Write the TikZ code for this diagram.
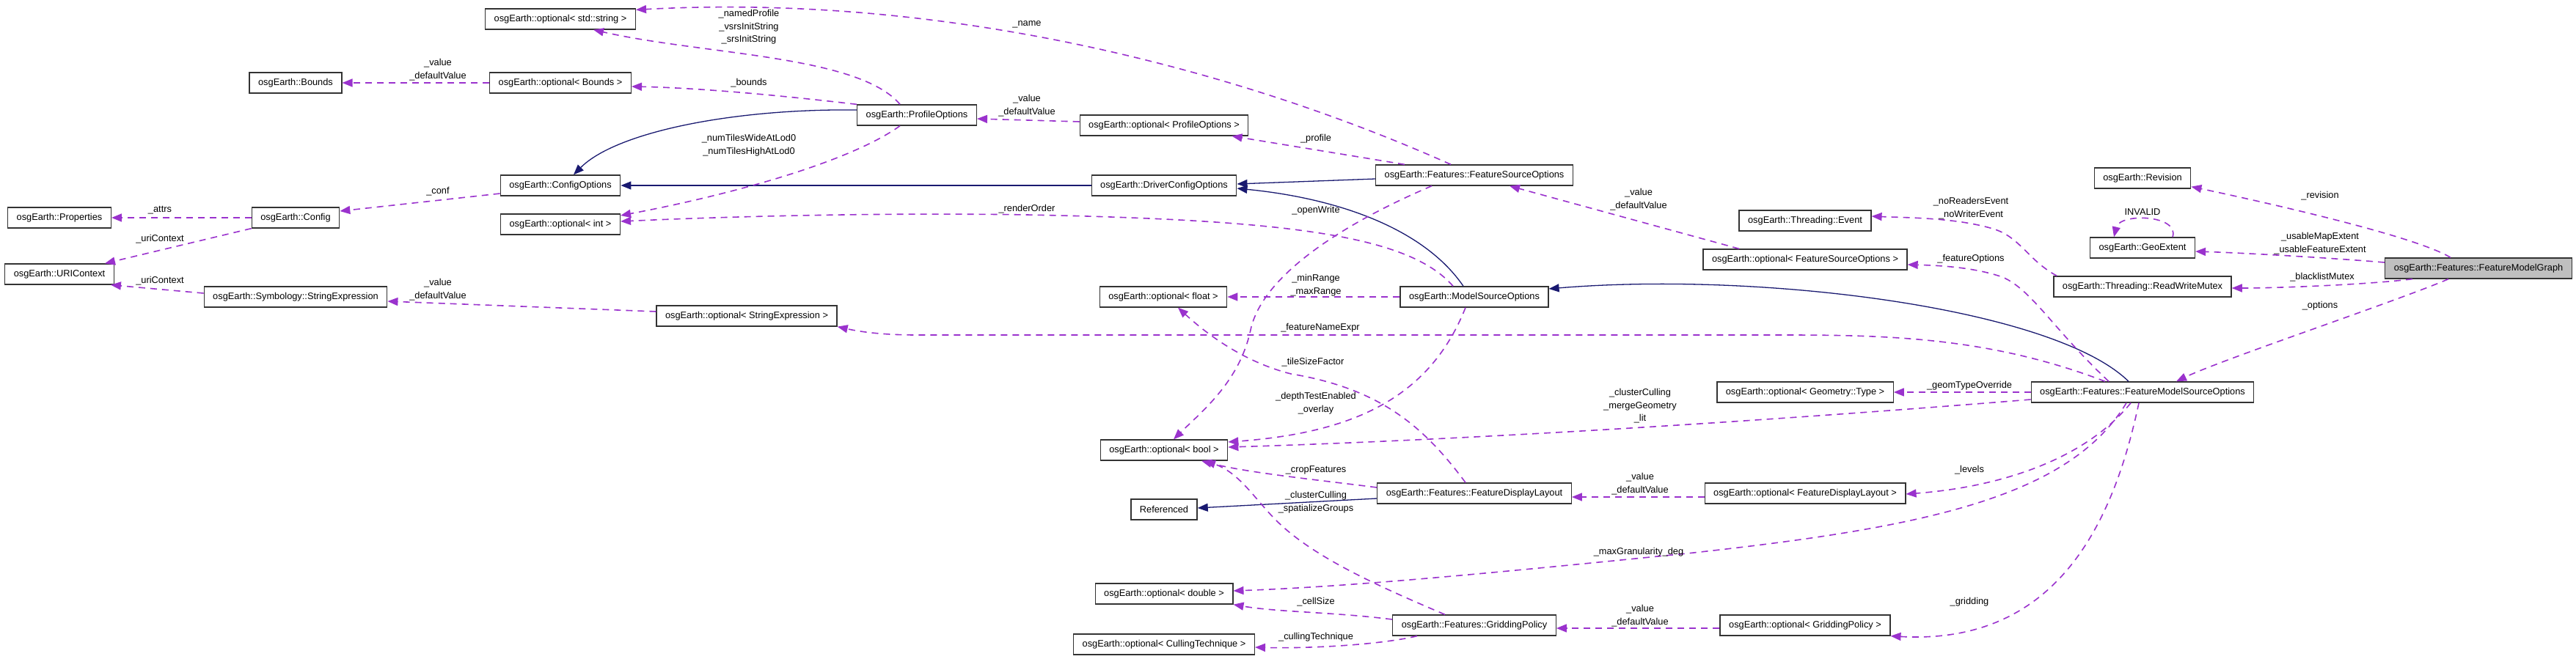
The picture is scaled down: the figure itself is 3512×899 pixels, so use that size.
\documentclass[tikz,border=0pt]{standalone}
\usepackage{fontspec}
\setmainfont{Liberation Sans}
\usetikzlibrary{arrows.meta}
\definecolor{member}{HTML}{9A32CD}
\definecolor{inherit}{HTML}{191970}
\definecolor{boxline}{HTML}{333333}
\definecolor{current}{HTML}{BFBFBF}

\tikzset{
  cls/.style={draw=boxline, line width=1.3pt, fill=white, minimum height=28pt,
    inner xsep=12pt, inner ysep=0pt, font=\fontsize{12.8}{15}\selectfont},
  cur/.style={cls, fill=current},
  dep/.style={draw=member, line width=1.6pt, dash pattern=on 9pt off 7pt,
    -{Triangle[length=14pt,width=11pt]}},
  inh/.style={draw=inherit, line width=1.3pt, -{Triangle[length=14pt,width=11pt]}},
  lbl/.style={font=\fontsize{12.8}{17.5}\selectfont, align=center, inner sep=0pt}
}

\begin{document}
\begin{tikzpicture}[x=1pt, y=-1pt]
  \useasboundingbox (0,0) rectangle (3512,899);

  % Classes
  \node[cls] (optstr) at (764,26) {osgEarth::optional< std::string >};
  \node[cls] (bounds) at (403,113) {osgEarth::Bounds};
  \node[cls] (optbounds) at (764,113) {osgEarth::optional< Bounds >};
  \node[cls] (cfgopt) at (764,253) {osgEarth::ConfigOptions};
  \node[cls] (optint) at (764,306) {osgEarth::optional< int >};
  \node[cls] (props) at (81,297) {osgEarth::Properties};
  \node[cls] (config) at (403,297) {osgEarth::Config};
  \node[cls] (uri) at (81,374) {osgEarth::URIContext};
  \node[cls] (strexpr) at (403,405) {osgEarth::Symbology::StringExpression};
  \node[cls] (profopt) at (1250,157) {osgEarth::ProfileOptions};
  \node[cls] (optprof) at (1587,171) {osgEarth::optional< ProfileOptions >};
  \node[cls] (drvopt) at (1587,253) {osgEarth::DriverConfigOptions};
  \node[cls] (optfloat) at (1586,405) {osgEarth::optional< float >};
  \node[cls] (optstrexpr) at (1018,431) {osgEarth::optional< StringExpression >};
  \node[cls] (optbool) at (1587,614) {osgEarth::optional< bool >};
  \node[cls] (refd) at (1587,695) {Referenced};
  \node[cls] (optdouble) at (1587,810) {osgEarth::optional< double >};
  \node[cls] (optcull) at (1587,879) {osgEarth::optional< CullingTechnique >};
  \node[cls] (fsopt) at (2010,239) {osgEarth::Features::FeatureSourceOptions};
  \node[cls] (msopt) at (2010,405) {osgEarth::ModelSourceOptions};
  \node[cls] (event) at (2461,301) {osgEarth::Threading::Event};
  \node[cls] (optfsopt) at (2461,354) {osgEarth::optional< FeatureSourceOptions >};
  \node[cls] (optgeom) at (2461,535) {osgEarth::optional< Geometry::Type >};
  \node[cls] (layout) at (2010,673) {osgEarth::Features::FeatureDisplayLayout};
  \node[cls] (optlayout) at (2461,673) {osgEarth::optional< FeatureDisplayLayout >};
  \node[cls] (grid) at (2010,853) {osgEarth::Features::GriddingPolicy};
  \node[cls] (optgrid) at (2461,853) {osgEarth::optional< GriddingPolicy >};
  \node[cls] (revision) at (2921,243) {osgEarth::Revision};
  \node[cls] (geoext) at (2921,338) {osgEarth::GeoExtent};
  \node[cls] (rwmutex) at (2921,391) {osgEarth::Threading::ReadWriteMutex};
  \node[cur] (fmg) at (3379,366) {osgEarth::Features::FeatureModelGraph};
  \node[cls] (fmsopt) at (2921,535) {osgEarth::Features::FeatureModelSourceOptions};

  % Inheritance
  \draw[inh] (drvopt.west) -- (cfgopt.east);
  \draw[inh] ([yshift=7]profopt.west) .. controls (1000,148) and (840,180) .. ([xshift=18]cfgopt.north);
  \draw[inh] ([yshift=-5]fsopt.west) -- ([yshift=2]drvopt.east);
  \draw[inh] ([xshift=-15]msopt.north) .. controls (1940,310) and (1820,270) .. ([yshift=-4]drvopt.east);
  \draw[inh] ([xshift=-19]fmsopt.north) .. controls (2800,420) and (2400,370) .. ([yshift=11]msopt.east);
  \draw[inh] ([yshift=-7]layout.west) -- ([yshift=2]refd.east);

  % Members of FeatureModelGraph
  \draw[dep] ([xshift=-38]fmg.north) .. controls (3290,320) and (3060,270) .. ([yshift=3]revision.south east);
  \draw[dep] ([yshift=8]fmg.west) .. controls (3180,352) and (3060,345) .. ([yshift=-5]geoext.east);
  \draw[dep] ([xshift=-90]fmg.south) .. controls (3230,388) and (3110,393) .. ([yshift=-2]rwmutex.east);
  \draw[dep] ([xshift=-41]fmg.south) .. controls (3270,410) and (3030,490) .. ([xshift=46]fmsopt.north);
  \draw[dep] ([xshift=41]geoext.north) .. controls (2972,293) and (2890,290) .. ([xshift=-39]geoext.north);
  \draw[dep] ([xshift=5]rwmutex.north west) .. controls (2765,355) and (2755,325) .. (2720,313)
    .. controls (2670,297) and (2600,297) .. ([yshift=6]event.east);

  % Members of FeatureModelSourceOptions
  \draw[dep] ([xshift=-46]fmsopt.north) .. controls (2800,450) and (2770,395) .. (2730,378)
    .. controls (2690,364) and (2640,362) .. ([yshift=-7]optfsopt.east);
  \draw[dep] ([xshift=-51]fmsopt.north) .. controls (2700,455) and (2550,457) .. (2400,457)
    -- (1250,457) .. controls (1200,457) and (1170,452) .. (optstrexpr.south east);
  \draw[dep] ([yshift=-10]fmsopt.west) .. controls (2400,575) and (2000,600) .. ([yshift=4]optbool.east);
  \draw[dep] (fmsopt.west) -- (optgeom.east);
  \draw[dep] ([xshift=-16]fmsopt.south) .. controls (2840,630) and (2720,665) .. ([yshift=-1]optlayout.east);
  \draw[dep] ([xshift=-22]fmsopt.south) .. controls (2820,680) and (2620,720) .. (2300,755)
    .. controls (2050,780) and (1850,800) .. ([yshift=4]optdouble.east);
  \draw[dep] ([xshift=-5]fmsopt.south) .. controls (2880,720) and (2800,880) .. (optgrid.south east);

  % Members of the option classes
  \draw[dep] ([xshift=-90]optfsopt.north) -- ([xshift=48]fsopt.south);
  \draw[dep] ([xshift=-32]fsopt.north) .. controls (1700,100) and (1300,-10) .. ([yshift=-2]optstr.north east);
  \draw[dep] ([xshift=40]fsopt.north west) -- ([xshift=-23]optprof.south east);
  \draw[dep] ([xshift=-58]fsopt.south) .. controls (1820,310) and (1720,380) .. (1705,450)
    .. controls (1690,520) and (1640,560) .. ([xshift=13]optbool.north);
  \draw[dep] ([yshift=5]optprof.west) -- ([yshift=-5]profopt.east);
  \draw[dep] ([xshift=-23]profopt.north) .. controls (1170,75) and (960,75) .. ([xshift=45]optstr.south);
  \draw[dep] (profopt.north west) .. controls (1080,132) and (960,120) .. ([yshift=-5]optbounds.east);
  \draw[dep] ([xshift=-23]profopt.south) .. controls (1160,220) and (1000,265) .. ([yshift=12]optint.east);
  \draw[dep] (optbounds.west) -- (bounds.east);
  \draw[dep] ([xshift=-29]msopt.north) .. controls (1920,320) and (1750,300) .. (1400,293)
    .. controls (1200,290) and (1000,295) .. ([yshift=4]optint.east);
  \draw[dep] (msopt.west) -- (optfloat.east);
  \draw[dep] ([xshift=-12]msopt.south) .. controls (1950,540) and (1850,590) .. ([yshift=11]optbool.east);
  \draw[dep] ([yshift=-11]cfgopt.west) -- ([yshift=9]config.east);
  \draw[dep] (config.west) -- (props.east);
  \draw[dep] (config.south west) -- ([xshift=62]uri.north);
  \draw[dep] ([yshift=5]strexpr.west) -- ([xshift=-5]uri.south east);
  \draw[dep] ([yshift=6]optstrexpr.west) -- ([yshift=-6]strexpr.east);

  % Members of layout and gridding
  \draw[dep] ([xshift=-12]layout.north) .. controls (1940,580) and (1880,530) .. (1760,510)
    .. controls (1700,495) and (1650,460) .. ([xshift=20]optfloat.south);
  \draw[dep] ([yshift=8]layout.west) .. controls (1800,655) and (1700,645) .. ([xshift=51]optbool.south);
  \draw[dep] ([yshift=-5]optlayout.west) -- ([yshift=-5]layout.east);
  \draw[dep] ([xshift=-40]grid.north) .. controls (1880,800) and (1790,760) .. (1740,710)
    .. controls (1710,680) and (1690,645) .. ([xshift=56]optbool.south);
  \draw[dep] ([yshift=8]grid.west) .. controls (1820,835) and (1740,835) .. (optdouble.south east);
  \draw[dep] ([xshift=-78]grid.south) .. controls (1880,880) and (1780,885) .. ([yshift=-4]optcull.east);
  \draw[dep] ([yshift=-4]optgrid.west) -- ([yshift=-4]grid.east);

  % Edge labels
  \node[lbl] (l-revision) at (3163,267) {\_revision};
  \node[lbl] (l-usable) at (3163,332) {\_usableMapExtent\\\_usableFeatureExtent};
  \node[lbl] (l-invalid) at (2921,289) {INVALID};
  \node[lbl] (l-blacklist) at (3166,378) {\_blacklistMutex};
  \node[lbl] (l-options) at (3163,417) {\_options};
  \node[lbl] (l-events) at (2687,284) {\_noReadersEvent\\\_noWriterEvent};
  \node[lbl] (l-featopt) at (2687,353) {\_featureOptions};
  \node[lbl] (l-fsvalue) at (2234,272) {\_value\\\_defaultValue};
  \node[lbl] (l-name) at (1400,33) {\_name};
  \node[lbl] (l-named) at (1021,37) {\_namedProfile\\\_vsrsInitString\\\_srsInitString};
  \node[lbl] (l-bounds) at (1021,113) {\_bounds};
  \node[lbl] (l-bvalue) at (597,95) {\_value\\\_defaultValue};
  \node[lbl] (l-pvalue) at (1400,144) {\_value\\\_defaultValue};
  \node[lbl] (l-profile) at (1794,189) {\_profile};
  \node[lbl] (l-numtiles) at (1021,198) {\_numTilesWideAtLod0\\\_numTilesHighAtLod0};
  \node[lbl] (l-render) at (1400,285) {\_renderOrder};
  \node[lbl] (l-conf) at (597,261) {\_conf};
  \node[lbl] (l-attrs) at (218,287) {\_attrs};
  \node[lbl] (l-uri1) at (218,326) {\_uriContext};
  \node[lbl] (l-uri2) at (218,383) {\_uriContext};
  \node[lbl] (l-svalue) at (597,395) {\_value\\\_defaultValue};
  \node[lbl] (l-fname) at (1800,447) {\_featureNameExpr};
  \node[lbl] (l-range) at (1794,389) {\_minRange\\\_maxRange};
  \node[lbl] (l-tile) at (1790,494) {\_tileSizeFactor};
  \node[lbl] (l-depth) at (1794,550) {\_depthTestEnabled\\\_overlay};
  \node[lbl] (l-openwrite) at (1794,287) {\_openWrite};
  \node[lbl] (l-cluster) at (2236,554) {\_clusterCulling\\\_mergeGeometry\\\_lit};
  \node[lbl] (l-crop) at (1794,641) {\_cropFeatures};
  \node[lbl] (l-spatial) at (1794,685) {\_clusterCulling\\\_spatializeGroups};
  \node[lbl] (l-lvalue) at (2236,660) {\_value\\\_defaultValue};
  \node[lbl] (l-levels) at (2685,641) {\_levels};
  \node[lbl] (l-geom) at (2685,526) {\_geomTypeOverride};
  \node[lbl] (l-maxgran) at (2234,753) {\_maxGranularity\_deg};
  \node[lbl] (l-cell) at (1794,821) {\_cellSize};
  \node[lbl] (l-cull) at (1794,869) {\_cullingTechnique};
  \node[lbl] (l-gvalue) at (2236,840) {\_value\\\_defaultValue};
  \node[lbl] (l-gridding) at (2685,821) {\_gridding};
\end{tikzpicture}
\end{document}
